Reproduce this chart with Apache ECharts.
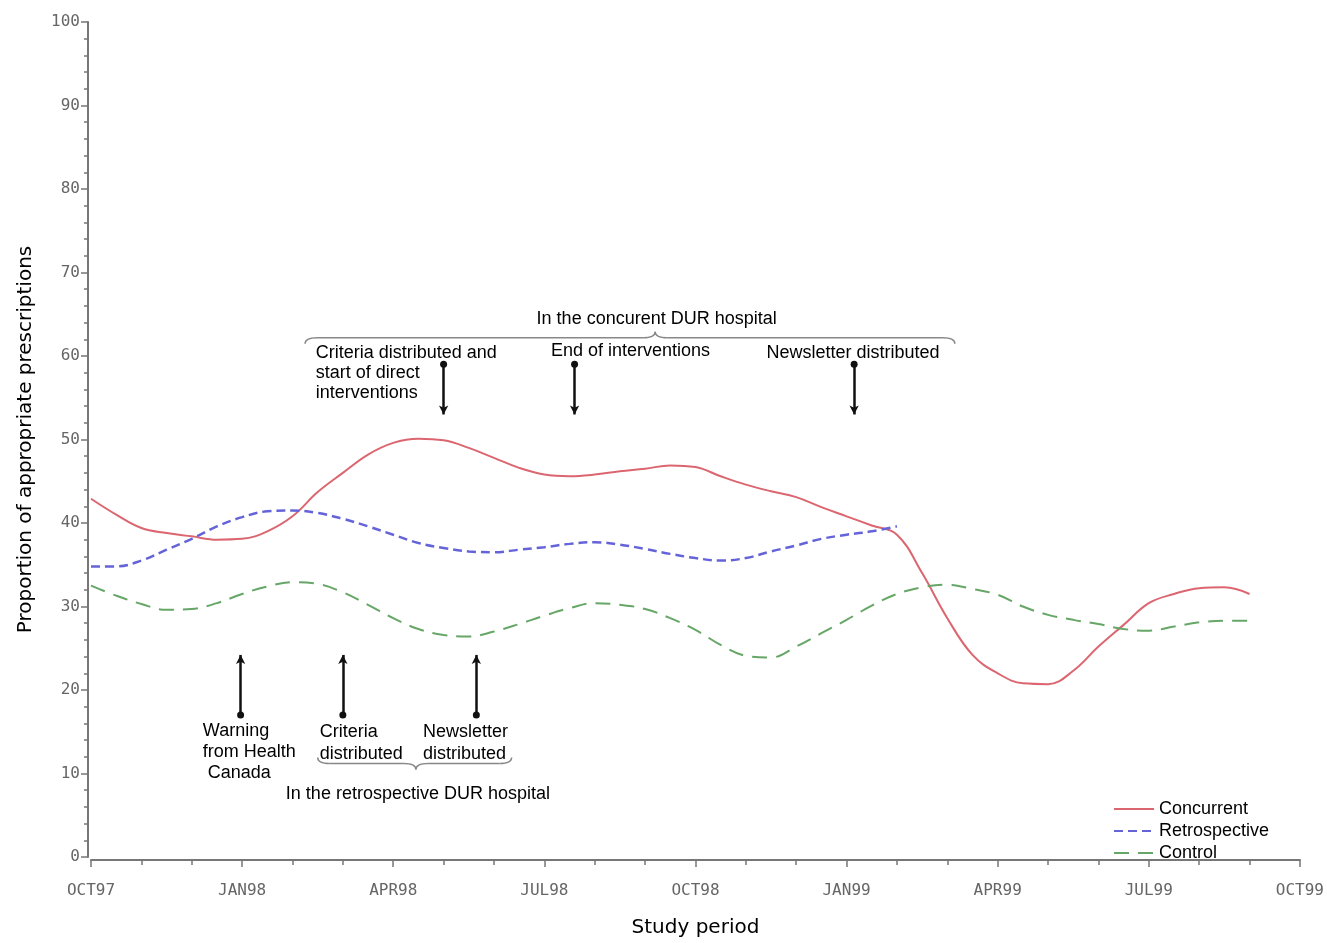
<!DOCTYPE html>
<html>
<head>
<meta charset="utf-8">
<script src="https://cdn.jsdelivr.net/npm/echarts@6/dist/echarts.min.js"></script>
<style>
html,body{margin:0;padding:0;background:#fff;}
#main{width:1327px;height:943px;}
</style>
</head>
<body>
<div id="main"></div>
<script>
// x positions in months since OCT97 (half-month steps)
var months = [0,0.5,1,1.5,2,2.5,3,3.5,4,4.5,5,5.5,6,6.5,7,7.5,8,8.5,9,9.5,10,10.5,11,11.5,12,12.5,13,13.5,14,14.5,15,15.5,16,16.5,17,17.5,18,18.5,19,19.5,20,20.5,21,21.5,22,22.5,23];
var tickLabels = ['OCT97','JAN98','APR98','JUL98','OCT98','JAN99','APR99','JUL99','OCT99'];
var concurrent = [42.9,41.0,39.4,38.8,38.4,38.0,38.1,39.0,40.8,43.7,46.0,48.2,49.6,50.1,49.9,49.0,47.8,46.6,45.8,45.6,45.8,46.2,46.5,46.9,46.7,45.6,44.6,43.8,43.1,41.9,40.8,39.7,38.6,34.0,28.6,24.2,22.0,20.8,20.7,22.3,25.2,27.8,30.4,31.5,32.2,32.3,31.5];
var retrospective = [34.8,34.8,35.5,36.8,38.1,39.6,40.7,41.4,41.5,41.2,40.5,39.6,38.6,37.6,37.0,36.6,36.5,36.8,37.1,37.5,37.7,37.4,36.9,36.3,35.8,35.5,35.8,36.6,37.3,38.1,38.6,39.0,39.6];
var control = [32.5,31.3,30.3,29.6,29.7,30.4,31.5,32.4,32.9,32.7,31.7,30.2,28.6,27.3,26.6,26.4,27.0,27.9,28.9,29.8,30.4,30.2,29.7,28.6,27.2,25.4,24.1,23.9,25.2,26.8,28.4,30.1,31.5,32.3,32.6,32.1,31.4,30.0,29.0,28.4,27.9,27.3,27.1,27.6,28.1,28.3,28.3];
var seriesNames = ['Concurrent','Retrospective','Control'];

// annotation arrows [month, fromValue, toValue]
var upperArrows = [[7.0,59.0,53.0],[9.6,59.0,53.0],[15.15,59.0,53.0]];
var lowerArrows = [[2.97,17.0,24.2],[5.0,17.0,24.2],[7.65,17.0,24.2]];

function pairs(vals){ return vals.map(function(v,i){ return [months[i], v]; }); }

var chart = echarts.init(document.getElementById('main'));
var textFont = '18px "Liberation Sans", Arial, sans-serif';
var axisFont = 'DejaVu Sans Mono';

function arrowData(list){
  return list.map(function(a){ return [{coord:[a[0],a[1]]},{coord:[a[0],a[2]]}]; });
}

var option = {
  animation: false,
  backgroundColor: '#fff',
  grid: {left: 91, right: 27, top: 22, bottom: 73},
  legend: {
    orient: 'vertical', left: 1108, top: 795,
    itemWidth: 40, itemHeight: 14, itemGap: 4,
    itemStyle: {opacity: 0},
    textStyle: {fontSize: 18, color: '#000', fontFamily: 'Liberation Sans'},
    data: seriesNames
  },
  xAxis: {
    type: 'value', min: 0, max: 24, interval: 3, offset: 3,
    name: 'Study period', nameLocation: 'middle', nameGap: 58,
    nameTextStyle: {fontSize: 20, color: '#000', fontFamily: 'DejaVu Sans'},
    axisLine: {onZero: false, lineStyle: {color: '#777', width: 2}},
    axisTick: {length: 7, lineStyle: {color: '#777', width: 1.5}},
    minorTick: {show: true, splitNumber: 3, length: 5, lineStyle: {color: '#777', width: 1.5}},
    splitLine: {show: false},
    axisLabel: {margin: 23, color: '#666', fontSize: 16, fontFamily: axisFont,
      formatter: function(v){ return tickLabels[Math.round(v/3)]; }}
  },
  yAxis: {
    type: 'value', min: 0, max: 100, interval: 10, offset: 3,
    name: 'Proportion of appropriate prescriptions', nameLocation: 'middle', nameGap: 52,
    nameTextStyle: {fontSize: 20, color: '#000', fontFamily: 'DejaVu Sans'},
    axisLine: {show: true, onZero: false, lineStyle: {color: '#777', width: 2}},
    axisTick: {show: true, length: 7, lineStyle: {color: '#777', width: 1.5}},
    minorTick: {show: true, splitNumber: 5, length: 4, lineStyle: {color: '#777', width: 1.5}},
    splitLine: {show: false},
    axisLabel: {margin: 8, color: '#666', fontSize: 16, fontFamily: axisFont}
  },
  series: [
    {name: seriesNames[0], type: 'line', data: pairs(concurrent), smooth: 0.4, symbol: 'none',
     color: '#dc6670', lineStyle: {color: '#dc6670', width: 2}},
    {name: seriesNames[1], type: 'line', data: pairs(retrospective), smooth: 0.4, symbol: 'none',
     color: '#6464d8', lineStyle: {color: '#6464d8', width: 2.5, type: [9, 5]}},
    {name: seriesNames[2], type: 'line', data: pairs(control), smooth: 0.4, symbol: 'none',
     color: '#66a666', lineStyle: {color: '#66a666', width: 2, type: [15, 9]},
     markLine: {
       silent: true, animation: false,
       symbol: ['circle', 'arrow'], symbolSize: [7, 9],
       label: {show: false},
       lineStyle: {color: '#111', width: 2.5, type: 'solid'},
       data: arrowData(upperArrows).concat(arrowData(lowerArrows))
     }}
  ]
};
chart.setOption(option);

function px(m, v){ return chart.convertToPixel({gridIndex: 0}, [m, v]); }

var braceStyle = {stroke: '#888', lineWidth: 1.5, fill: null};
function brace(m1, m2, mc, v, dir){
  // dir = -1: tip points up; +1: tip points down
  var a = px(m1, v), b = px(m2, v), c = px(mc, v);
  var y = a[1], h = 6 * dir, r = 12;
  function q(x1, y1, cx, cy, x2, y2){
    return {type: 'bezierCurve', silent: true, z: 10,
      shape: {x1: x1, y1: y1, cpx1: cx, cpy1: cy, x2: x2, y2: y2}, style: braceStyle};
  }
  function ln(x1, x2){
    return {type: 'line', silent: true, z: 10,
      shape: {x1: x1, y1: y, x2: x2, y2: y}, style: braceStyle};
  }
  return [
    q(a[0], y - h, a[0], y, a[0] + r, y),
    ln(a[0] + r, c[0] - r),
    q(c[0] - r, y, c[0], y, c[0], y + h),
    q(c[0], y + h, c[0], y, c[0] + r, y),
    ln(c[0] + r, b[0] - r),
    q(b[0] - r, y, b[0], y, b[0], y - h)
  ];
}

function label(text, m, v, align, lh){
  var p = px(m, v);
  return {type: 'text', x: p[0], y: p[1], silent: true, z: 10,
    style: {text: text, font: textFont, fill: '#000', align: align || 'left',
      verticalAlign: 'middle', lineHeight: lh || 20}};
}

var annotations = [
  {t: 'In the concurent DUR hospital', m: 11.23, v: 64.4, a: 'center'},
  {t: 'Criteria distributed and\nstart of direct\ninterventions', m: 4.46, v: 58.0, a: 'left', lh: 20},
  {t: 'End of interventions', m: 9.13, v: 60.6, a: 'left'},
  {t: 'Newsletter distributed', m: 13.41, v: 60.3, a: 'left'},
  {t: 'Warning\nfrom Health\n Canada', m: 2.22, v: 12.6, a: 'left', lh: 21},
  {t: 'Criteria\ndistributed', m: 4.54, v: 13.6, a: 'left', lh: 22},
  {t: 'Newsletter\ndistributed', m: 6.59, v: 13.6, a: 'left', lh: 22},
  {t: 'In the retrospective DUR hospital', m: 6.49, v: 7.5, a: 'center'}
];

var graphics = annotations.map(function(o){ return label(o.t, o.m, o.v, o.a, o.lh); });
graphics = graphics.concat(brace(4.25, 17.15, 11.2, 62.2, -1));
graphics = graphics.concat(brace(4.5, 8.35, 6.45, 11.2, 1));

chart.setOption({graphic: graphics});
</script>
</body>
</html>
